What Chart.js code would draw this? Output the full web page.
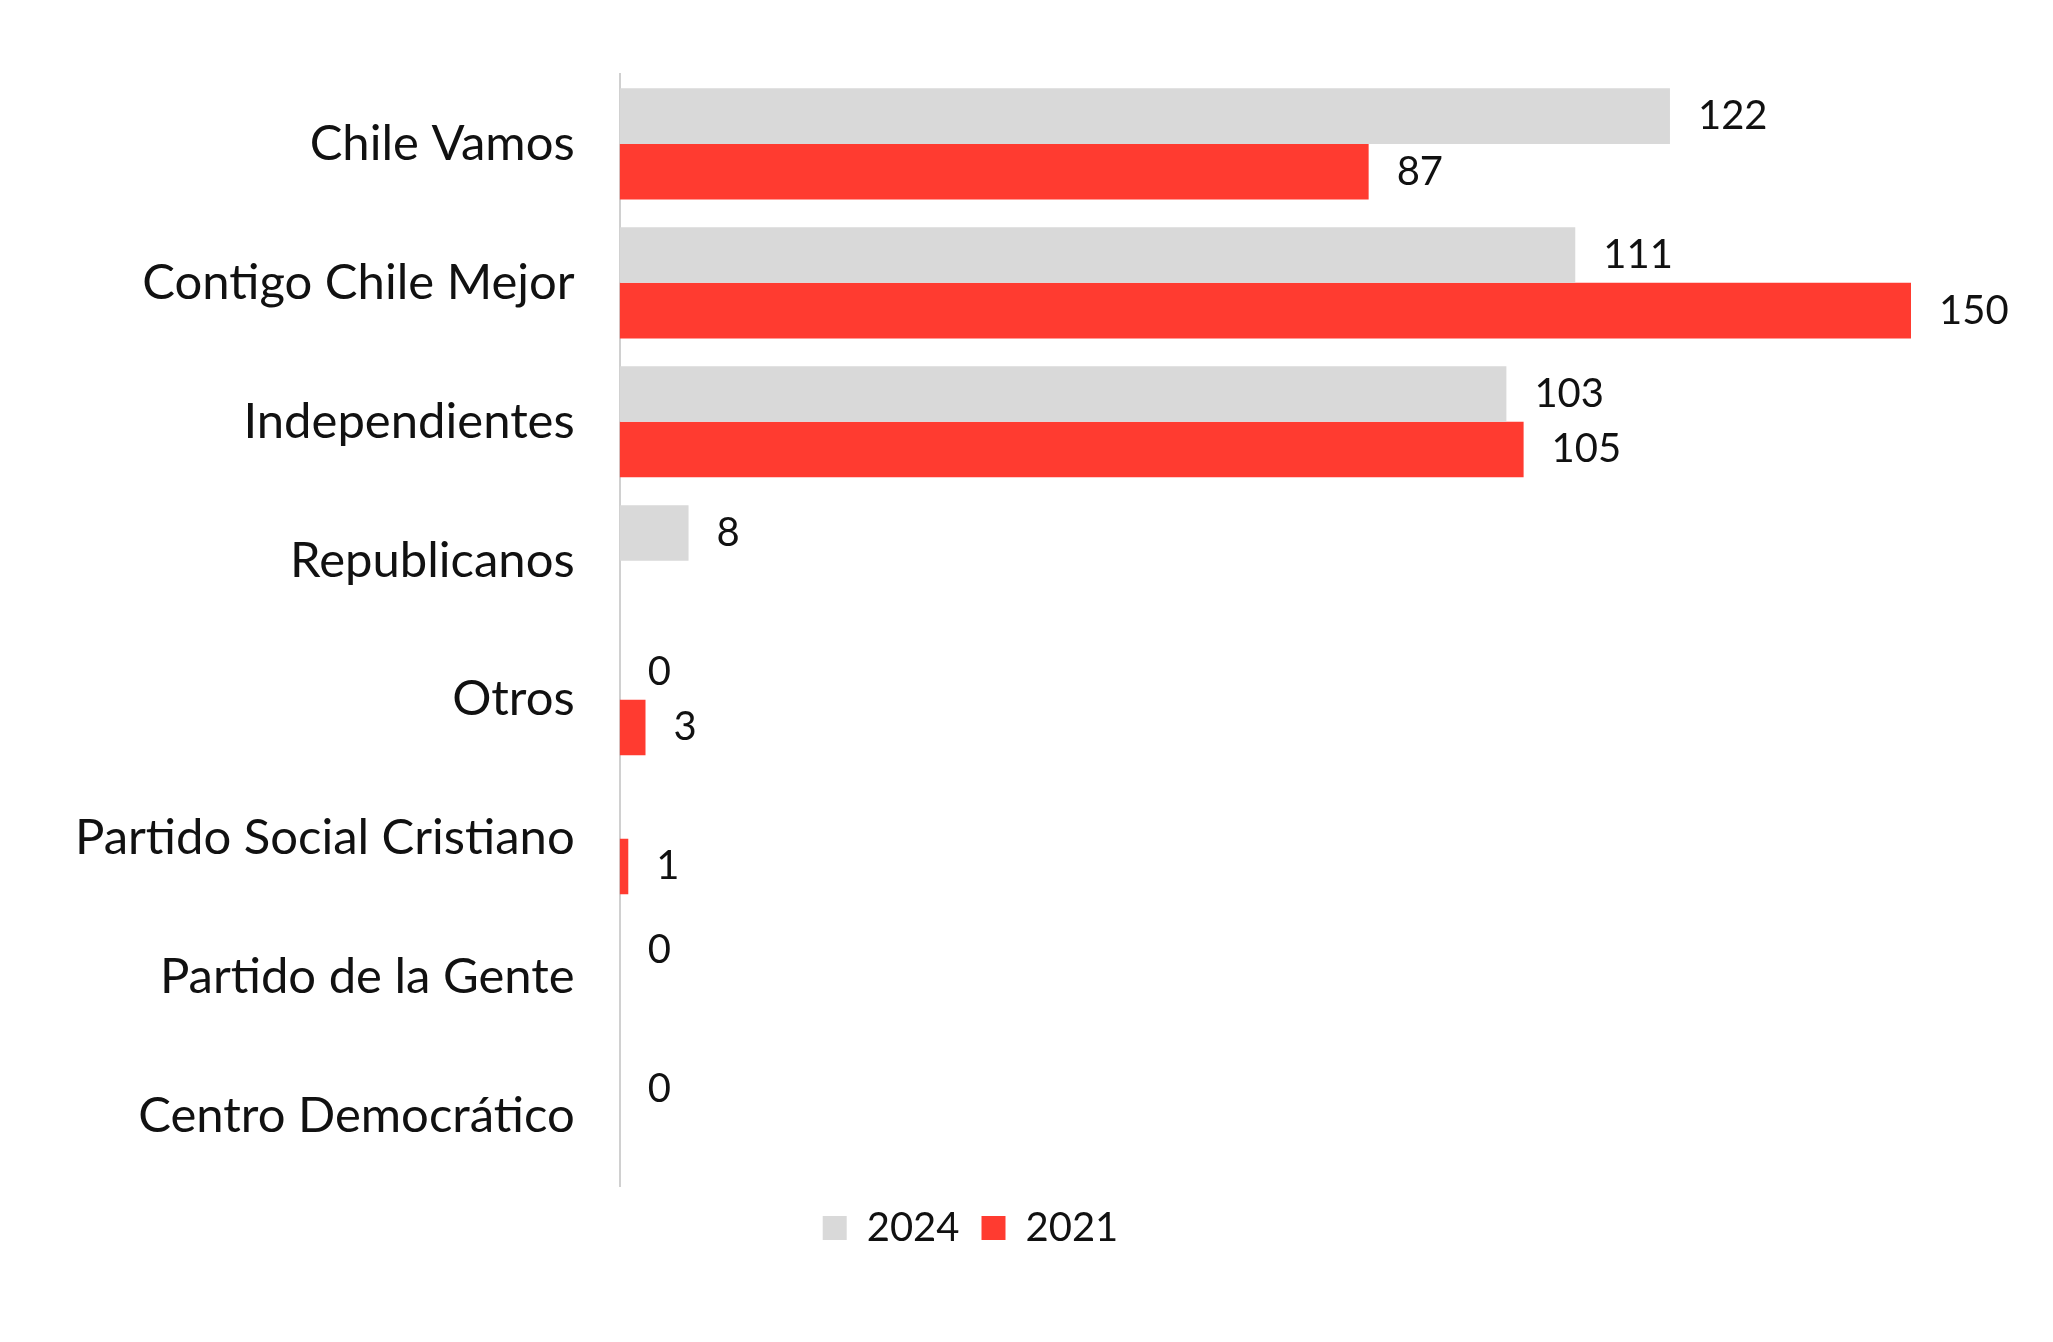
<!DOCTYPE html>
<html><head><meta charset="utf-8">
<script src="https://cdn.jsdelivr.net/npm/chart.js@4"></script>
<style>html,body{margin:0;padding:0;background:#fff}#w{width:2053px;height:1342px}</style>
</head><body><div id="w"><canvas id="c"></canvas></div>
<script>
const categories = ["Chile Vamos","Contigo Chile Mejor","Independientes","Republicanos","Otros","Partido Social Cristiano","Partido de la Gente","Centro Democrático"];
const values2024 = [122,111,103,8,0,null,0,0];
const values2021 = [87,150,105,null,3,1,null,null];
const seriesNames = ["2024","2021"];
const FONT = "Lato, 'DejaVu Sans', sans-serif";
const labelPlugin = {
  id:'vals',
  afterDatasetsDraw(chart){
    const ctx = chart.ctx;
    ctx.save();
    ctx.font = "40px " + FONT;
    ctx.fillStyle = "#111";
    ctx.textBaseline = "middle";
    chart.data.datasets.forEach((ds,i)=>{
      chart.getDatasetMeta(i).data.forEach((bar,j)=>{
        const v = ds.data[j];
        if(v===null||v===undefined) return;
        ctx.fillText(String(v), bar.x + 28, bar.y);
      });
    });
    ctx.restore();
  }
};
new Chart(document.getElementById('c'),{
  type:'bar',
  data:{labels:categories,datasets:[
    {label:seriesNames[0],data:values2024,backgroundColor:'#d9d9d9',categoryPercentage:0.8,barPercentage:1},
    {label:seriesNames[1],data:values2021,backgroundColor:'#ff3b30',categoryPercentage:0.8,barPercentage:1}
  ]},
  options:{
    indexAxis:'y',responsive:true,maintainAspectRatio:false,animation:false,
    layout:{padding:{top:30,right:142,left:30,bottom:84}},
    plugins:{
      legend:{position:'bottom',labels:{font:{size:40,family:FONT},color:'#111',boxWidth:24,boxHeight:24,padding:22}},
      tooltip:{enabled:false}
    },
    scales:{
      x:{min:0,max:150,display:false,grid:{display:false}},
      y:{grid:{display:false,drawTicks:false},border:{display:true,color:'#d0d0d0',width:2},
         ticks:{font:{size:49,family:FONT},color:'#111',padding:45}}
    }
  },
  plugins:[labelPlugin]
});
</script></body></html>
